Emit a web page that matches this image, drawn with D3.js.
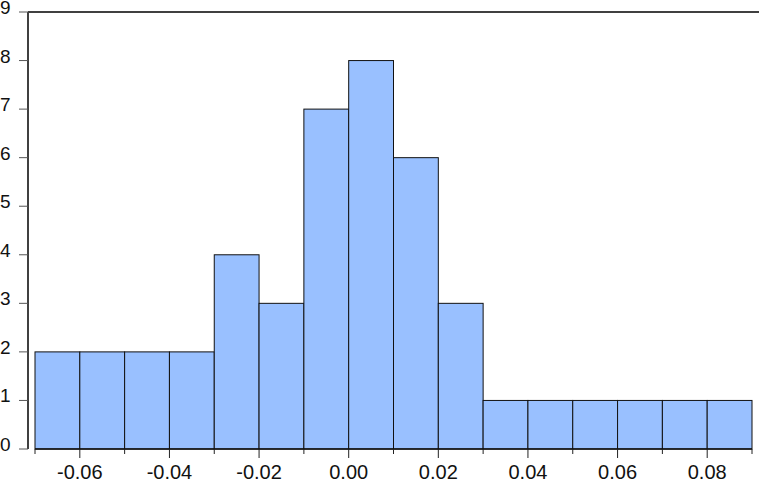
<!DOCTYPE html>
<html>
<head>
<meta charset="utf-8">
<script src="https://cdn.jsdelivr.net/npm/d3@7"></script>
<style>
  body { margin: 0; background: #fff; }
  svg { display: block; font-family: Arial, "Liberation Sans", sans-serif; }
</style>
</head>
<body>
<div id="chart"></div>
<script>
// histogram bins: left edges, width 0.01
const binStarts = [-0.07, -0.06, -0.05, -0.04, -0.03, -0.02, -0.01, 0.00, 0.01, 0.02, 0.03, 0.04, 0.05, 0.06, 0.07, 0.08];
const counts = [2, 2, 2, 2, 4, 3, 7, 8, 6, 3, 1, 1, 1, 1, 1, 1];
const binWidth = 0.01;
const xMajorTicks = [-0.06, -0.04, -0.02, 0.00, 0.02, 0.04, 0.06, 0.08];
const xMinorTicks = [-0.07, -0.05, -0.03, -0.01, 0.01, 0.03, 0.05, 0.07, 0.09];
const yTicks = [0, 1, 2, 3, 4, 5, 6, 7, 8, 9];

const width = 759, height = 485;

const svg = d3.select('#chart')
  .append('svg')
  .attr('width', width)
  .attr('height', height);

const x = d3.scaleLinear().domain([-0.07, 0.09]).range([35, 752]);
const y = d3.scaleLinear().domain([0, 9]).range([449, 12]);

// bars
svg.append('g')
  .selectAll('rect')
  .data(binStarts)
  .join('rect')
  .attr('x', d => x(d))
  .attr('width', d => x(d + binWidth) - x(d))
  .attr('y', (d, i) => y(counts[i]))
  .attr('height', (d, i) => y(0) - y(counts[i]))
  .attr('fill', '#99c0ff')
  .attr('stroke', '#111')
  .attr('stroke-width', 1);

// top frame line
svg.append('line')
  .attr('x1', 28).attr('x2', width)
  .attr('y1', y(9)).attr('y2', y(9))
  .attr('stroke', '#404040')
  .attr('stroke-width', 2);

// left axis
svg.append('line')
  .attr('x1', 28).attr('x2', 28)
  .attr('y1', y(9)).attr('y2', y(0))
  .attr('stroke', '#404040')
  .attr('stroke-width', 2);

const yAxis = svg.append('g');
yAxis.selectAll('line')
  .data(yTicks)
  .join('line')
  .attr('x1', 19).attr('x2', 28)
  .attr('y1', d => y(d)).attr('y2', d => y(d))
  .attr('stroke', '#555')
  .attr('stroke-width', 1);
yAxis.selectAll('text')
  .data(yTicks)
  .join('text')
  .attr('x', 0)
  .attr('y', d => y(d) + 2)
  .attr('font-size', 19)
  .attr('fill', '#111')
  .text(d => d);

// bottom axis
svg.append('line')
  .attr('x1', x(-0.07)).attr('x2', x(0.09))
  .attr('y1', y(0)).attr('y2', y(0))
  .attr('stroke', '#111')
  .attr('stroke-width', 1.5);

const xAxis = svg.append('g');
xAxis.selectAll('line.minor')
  .data(xMinorTicks)
  .join('line')
  .attr('class', 'minor')
  .attr('x1', d => x(d)).attr('x2', d => x(d))
  .attr('y1', y(0)).attr('y2', y(0) + 5)
  .attr('stroke', '#222');
xAxis.selectAll('line.major')
  .data(xMajorTicks)
  .join('line')
  .attr('class', 'major')
  .attr('x1', d => x(d)).attr('x2', d => x(d))
  .attr('y1', y(0)).attr('y2', y(0) + 9)
  .attr('stroke', '#222');
xAxis.selectAll('text')
  .data(xMajorTicks)
  .join('text')
  .attr('x', d => x(d))
  .attr('y', 479)
  .attr('text-anchor', 'middle')
  .attr('font-size', 20)
  .attr('fill', '#111')
  .text(d => d3.format('.2f')(d).replace('−', '-'));
</script>
</body>
</html>
